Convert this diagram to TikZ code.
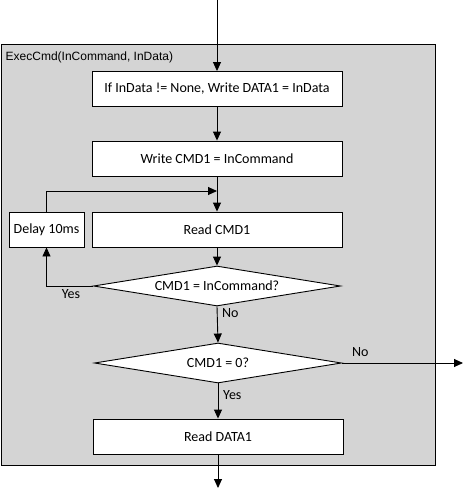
\documentclass[tikz,border=0pt]{standalone}
\usepackage{fontspec}
\setmainfont{Carlito}
\newfontfamily\arialfont{Liberation Sans}
\usetikzlibrary{shapes.geometric,arrows.meta}
\begin{document}
\begin{tikzpicture}[x=1pt,y=-1pt,
  txt/.style={font=\fontsize{14}{16}\selectfont},
  proc/.style={txt,draw=black,line width=0.9pt,fill=white,minimum width=250pt,minimum height=35pt,inner sep=0pt},
  dec/.style={txt,draw=black,line width=0.9pt,fill=white,diamond,aspect=6,minimum width=247pt,minimum height=40pt,inner sep=0pt},
  conn/.style={line width=0.9pt,-{Triangle[length=9pt,width=8pt]}},
  lbl/.style={txt,inner sep=0pt}]
\useasboundingbox (0,0) rectangle (465,488);
\node[draw=black,line width=1.3pt,fill=black!17,minimum width=434pt,minimum height=421pt,inner sep=0pt,anchor=north west] (outer) at (1,44) {};
\node[anchor=west,inner sep=0pt,font=\arialfont\fontsize{12}{14}\selectfont] (title) at (5.5,57) {ExecCmd(InCommand, InData)};
\coordinate (start) at (217,0);
\node[proc] (b1) at (217,89) {If InData != None, Write DATA1 = InData};
\node[proc] (b2) at (217,158.5) {Write CMD1 = InCommand};
\node[proc] (b3) at (217,229.5) {Read CMD1};
\node[txt,draw=black,line width=0.9pt,fill=white,minimum width=75pt,minimum height=35pt,inner sep=0pt] (delay) at (46.5,229.5) {Delay 10ms};
\node[dec] (d1) at (217,286) {CMD1 = InCommand?};
\node[dec] (d2) at (218,363) {CMD1 = 0?};
\node[proc] (b4) at (218,436.5) {Read DATA1};
\coordinate (join) at (217,191);
\coordinate (exitr) at (463,363);
\coordinate (endc) at (218,488);
\draw[conn] (start) -- (b1.north);
\draw[conn] (b1.south) -- (b2.north);
\draw[conn] (b2.south) -- (b3.north);
\draw[conn] (b3.south) -- (d1.north);
\draw[conn] (d1.west) -| (delay.south);
\draw[conn] (delay.north) |- (join);
\draw[conn] (d1.south) -- (d2.north);
\draw[conn] (d2.east) -- (exitr);
\draw[conn] (d2.south) -- (b4.north);
\draw[conn] (b4.south) -- (endc);
\node[lbl] (yes1) at (71,294) {Yes};
\node[lbl,anchor=west] (no1) at (222,313) {No};
\node[lbl,anchor=west] (no2) at (352,352) {No};
\node[lbl,anchor=west] (yes2) at (223,395) {Yes};
\end{tikzpicture}
\end{document}
